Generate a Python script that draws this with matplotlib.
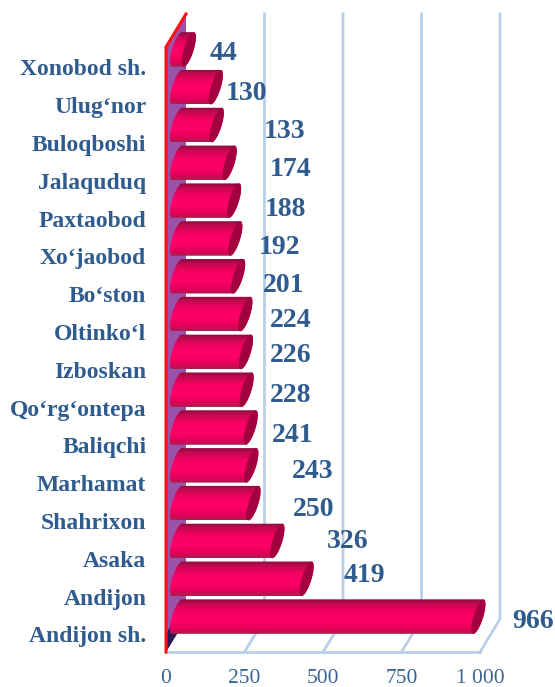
import numpy as np
import matplotlib
matplotlib.use("Agg")
import matplotlib.pyplot as plt
from matplotlib.colors import LinearSegmentedColormap
from matplotlib.path import Path
from matplotlib.patches import PathPatch, Polygon
from matplotlib.transforms import ScaledTranslation

categories = ["Xonobod sh.", "Ulug‘nor", "Buloqboshi", "Jalaquduq", "Paxtaobod", "Xo‘jaobod",
              "Bo‘ston", "Oltinko‘l", "Izboskan", "Qo‘rg‘ontepa", "Baliqchi", "Marhamat",
              "Shahrixon", "Asaka", "Andijon", "Andijon sh."]
values = [44, 130, 133, 174, 188, 192, 201, 224, 226, 228, 241, 243, 250, 326, 419, 966]
x_ticks = [0, 250, 500, 750, 1000]
x_tick_labels = ["0", "250", "500", "750", "1 000"]
# hand-placed data label centres in figure pixels, as in the reference
label_px = [(224, 53), (246, 93), (285, 132), (291, 170), (285, 209), (280, 247), (284, 285), (291, 320),
            (291, 356), (291, 395), (293, 435), (313, 472), (314, 509), (348, 541), (364, 576), (533, 622)]

W, H = 555, 687
L, R, T, B = 166, 480, 47, 652
fig = plt.figure(figsize=(W / 100, H / 100), dpi=100)
ax = fig.add_axes([L / W, 1 - B / H, (R - L) / W, (B - T) / H])
serif = "Liberation Serif"
blue = "#2f5b8e"
grid = "#b9cfe8"

n = len(categories)
sx = 1000 / (R - L)           # value units per pixel
sy = n / (B - T)              # band units per pixel
dx, dy = 20 * sx, -33 * sy    # depth of the 3-D box

# back wall and box lines
ax.add_patch(Polygon([(0, 0), (dx, dy), (dx, n + dy), (0, n)], closed=True, fc="#9a52a8", ec="none",
                     clip_on=False, zorder=1))
for t in x_ticks[1:]:
    ax.plot([t, t + dx, t + dx], [n, n + dy, dy], color=grid, lw=2, clip_on=False, zorder=1,
            solid_joinstyle="miter")
ax.plot([0, 1000], [n, n], color=grid, lw=2, clip_on=False, zorder=1)
ax.add_patch(Polygon([(0, n), (dx, n + dy), (dx, n - 1.35), (1.5 * sx, n - 0.55)], closed=True, fc="#2a1a50",
                     ec="none", clip_on=False, zorder=1.5))
ax.plot([0, 0, dx], [n, 0, dy], color="#ff1010", lw=2.2, clip_on=False, zorder=2, solid_joinstyle="miter")

cmap = LinearSegmentedColormap.from_list("cyl", [(0, "#8c0a3e"), (0.12, "#c00a50"), (0.35, "#f50062"),
                                                  (0.62, "#ff0068"), (0.88, "#e00058"), (1, "#a8204f")])
grad = np.linspace(0, 1, 64)[:, None]
h_px, shear_px, a_px, x0_px = 34.5, 5.0, 5.0, 4.0
start_px = 11.0
hh = h_px / 2 * sy
t_arc = np.linspace(-np.pi / 2, np.pi / 2, 40)


def end_curve(xc, yc, t):
    # skewed ellipse in value/band units
    return (xc + a_px * sx * np.cos(t) + shear_px * sx * np.sin(t), yc - hh * np.sin(t))


for i, v in enumerate(values):
    yc = i + 0.5 + dy / 2
    xs = start_px * sx
    xe = (x0_px + shear_px) * sx + v
    ex, ey = end_curve(xe, yc, t_arc)
    sxx, syy = end_curve(xs, yc, t_arc + np.pi)
    body = np.vstack([np.column_stack([ex, ey]), np.column_stack([sxx, syy])])
    path = Path(np.vstack([body, body[0]]), closed=True)
    patch = PathPatch(path, transform=ax.transData, fc="none", ec="none")
    ax.add_patch(patch)
    im = ax.imshow(grad, cmap=cmap, aspect="auto", origin="upper", vmin=0, vmax=1,
                   extent=(0, xe + 15 * sx, yc + hh, yc - hh), zorder=3 + i * 0.01, interpolation="bilinear")
    im.set_clip_path(patch)
    im.set_clip_box(fig.bbox)
    capx, capy = end_curve(xe, yc, np.linspace(0, 2 * np.pi, 80))
    ax.add_patch(Polygon(np.column_stack([capx, capy]), closed=True, fc="#a3003f", ec="none", clip_on=False,
                         zorder=3.005 + i * 0.01))

ax.set_xlim(0, 1000)
ax.set_ylim(n, 0)
for s in ax.spines.values():
    s.set_visible(False)
ax.patch.set_visible(False)
ax.set_xticks(x_ticks, x_tick_labels, fontfamily=serif, fontsize=15.5, color="#3a6491")
ax.set_yticks(np.arange(n) + 0.5, categories, fontfamily=serif, fontsize=17, fontweight="bold", color=blue)
ax.tick_params(axis="both", length=0)
ax.tick_params(axis="x", pad=12)
ax.tick_params(axis="y", pad=14.2)
for lab in ax.get_yticklabels():
    lab.set_transform(lab.get_transform() + ScaledTranslation(0, -1.0 / 72, fig.dpi_scale_trans))

for v, (px, py) in zip(values, label_px):
    fig.text(px / W, 1 - py / H, str(v), family=serif, fontsize=20, fontweight="bold", color=blue,
             ha="center", va="center", zorder=10)

fig.savefig("out.png", dpi=100)
